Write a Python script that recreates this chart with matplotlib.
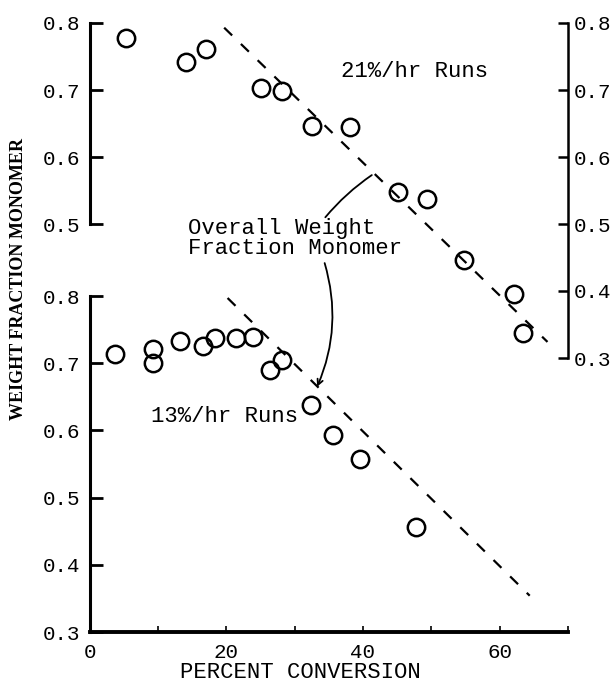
import matplotlib
matplotlib.use("Agg")
import matplotlib.pyplot as plt

# 21%/hr runs (upper panel, right-hand scale)
conv_21 = [5.4, 14.1, 17.0, 25.1, 28.2, 32.6, 38.1, 45.1, 49.4, 54.8, 62.1, 63.4]
wfm_21 = [0.777, 0.742, 0.761, 0.703, 0.699, 0.646, 0.645, 0.548, 0.538, 0.446, 0.395, 0.337]
line_21_x = [19.7, 67.0]
line_21_y = [0.793, 0.324]

# 13%/hr runs (lower panel)
conv_13 = [3.7, 9.3, 9.3, 13.3, 16.6, 18.3, 21.4, 23.9, 26.4, 28.1, 32.4, 35.6, 39.5, 47.7]
wfm_13 = [0.713, 0.721, 0.701, 0.733, 0.726, 0.737, 0.738, 0.739, 0.690, 0.705, 0.638, 0.593, 0.557, 0.456]
line_13_x = [20.2, 64.4]
line_13_y = [0.797, 0.354]

yticks_low = [0.3, 0.4, 0.5, 0.6, 0.7, 0.8]
yticks_up_left = [0.5, 0.6, 0.7, 0.8]
yticks_up_right = [0.3, 0.4, 0.5, 0.6, 0.7, 0.8]
xticks_major = [0, 20, 40, 60]
xticks_minor = [10, 30, 50, 70]

mono = "Liberation Mono"
W, H = 616, 683
fig = plt.figure(figsize=(W / 100, H / 100), dpi=100)

ax1 = fig.add_axes([89.5 / W, (H - 632) / H, (568 - 89.5) / W, (632 - 296) / H])
ax2 = fig.add_axes([89.5 / W, (H - 358) / H, (568 - 89.5) / W, (358 - 23) / H])
for ax in (ax1, ax2):
    ax.set_xlim(0, 70)
    ax.set_ylim(0.3, 0.8)
    ax.patch.set_alpha(0)
    ax.spines["top"].set_visible(False)

circ = dict(ls="none", marker="o", ms=12.5, mfc="none", mec="black", mew=1.8, clip_on=False)
dash = dict(color="black", lw=1.6, dashes=(5.0, 5.5), clip_on=False)

# lower panel
ax1.plot(conv_13, wfm_13, **circ)
ax1.plot(line_13_x, line_13_y, **dash)
ax1.spines["right"].set_visible(False)
ax1.spines["left"].set_linewidth(2.2)
ax1.spines["bottom"].set_linewidth(2.8)
ax1.set_yticks(yticks_low)
ax1.set_yticklabels([f"{v:.1f}" for v in yticks_low])
ax1.set_xticks(xticks_major)
ax1.set_xticks(xticks_minor, minor=True)
ax1.tick_params(axis="y", direction="in", length=9, width=2, pad=7, labelsize=15)
ax1.tick_params(axis="x", which="both", direction="in", length=4, width=1.2, pad=8, labelsize=15)
for lab in ax1.get_xticklabels() + ax1.get_yticklabels():
    lab.set_fontfamily(mono)

# upper panel
ax2.plot(conv_21, wfm_21, **circ)
ax2.plot(line_21_x, line_21_y, **dash)
ax2.spines["bottom"].set_visible(False)
ax2.spines["left"].set_bounds(0.5, 0.8)
ax2.spines["left"].set_linewidth(2.2)
ax2.spines["right"].set_visible(False)
ax2.set_xticks([])
ax2.set_yticks(yticks_up_left)
ax2.set_yticklabels([f"{v:.1f}" for v in yticks_up_left])
ax2.tick_params(axis="y", direction="in", length=9, width=2, pad=7, labelsize=15)
for lab in ax2.get_yticklabels():
    lab.set_fontfamily(mono)

axr = ax2.secondary_yaxis("right")
axr.set_yticks(yticks_up_right)
axr.set_yticklabels([f"{v:.1f}" for v in yticks_up_right])
axr.spines["right"].set_linewidth(1.8)
axr.tick_params(direction="in", length=7, width=1.8, pad=4, labelsize=15)
for lab in axr.get_yticklabels():
    lab.set_fontfamily(mono)

# annotations
ax2.text(47.6, 0.727, "21%/hr Runs", fontsize=16, family=mono, ha="center", va="center")
ax1.text(19.7, 0.62, "13%/hr Runs", fontsize=16, family=mono, ha="center", va="center")
ax2.text(14.4, 0.485, "Overall Weight", fontsize=16, family=mono, ha="left", va="baseline")
ax2.text(14.4, 0.455, "Fraction Monomer", fontsize=16, family=mono, ha="left", va="baseline")
ax2.annotate("", xy=(41.3, 0.573), xytext=(34.5, 0.510),
             arrowprops=dict(arrowstyle="-", color="black", lw=1.3,
                             connectionstyle="arc3,rad=-0.07", shrinkA=0, shrinkB=0),
             annotation_clip=False)
ax1.annotate("", xy=(33.3, 0.665), xytext=(34.4, 0.849),
             arrowprops=dict(arrowstyle="->,head_length=0.4,head_width=0.2", color="black", lw=1.3,
                             connectionstyle="arc3,rad=-0.18", shrinkA=0, shrinkB=0),
             annotation_clip=False)

fig.text(300 / W, (H - 673) / H, "PERCENT CONVERSION", fontsize=16, family=mono, ha="center", va="center")
fig.text(19 / W, (H - 279) / H, "WEIGHT FRACTION MONOMER", fontsize=13, family="Liberation Serif",
         weight="bold", rotation=90, ha="center", va="center")

fig.savefig("out.png", dpi=100)
